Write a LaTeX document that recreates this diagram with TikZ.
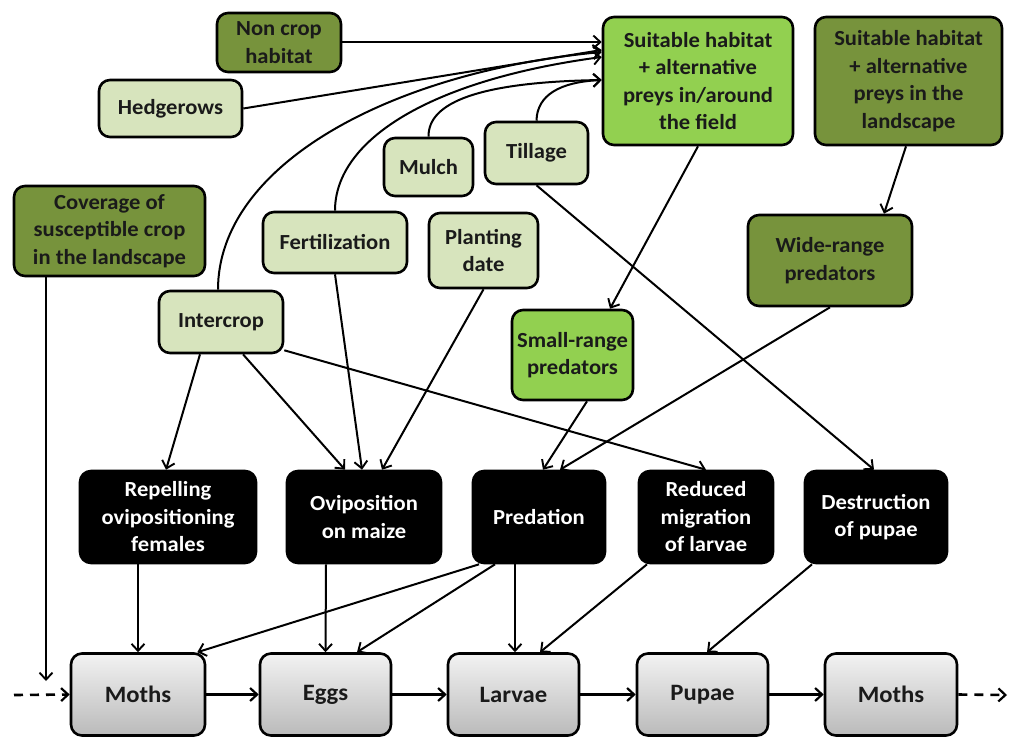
\documentclass[tikz,border=0pt]{standalone}
\usepackage{fontspec}
\setmainfont{Carlito}[FakeStretch=1.05]
\usetikzlibrary{arrows.meta}
\definecolor{pale}{HTML}{D7E4BD}
\definecolor{lgreen}{HTML}{92D050}
\definecolor{olive}{HTML}{77933C}
\definecolor{ink}{HTML}{1A1A1A}
\begin{document}
\begin{tikzpicture}[x=1pt,y=-1pt,
  box/.style={draw=black, line width=2.6pt, rounded corners=11pt, align=center,
    font=\fontsize{21.5}{27.5}\selectfont\bfseries, text=ink, inner sep=0pt},
  palebox/.style={box, fill=pale},
  greenbox/.style={box, fill=lgreen},
  olivebox/.style={box, fill=olive},
  blackbox/.style={box, fill=black, text=white, minimum height=92pt},
  stagebox/.style={box, top color=black!5, bottom color=black!27, minimum height=82pt, minimum width=131pt,
    font=\fontsize{23.5}{28}\selectfont\bfseries},
  conn/.style={line width=2pt, -{Straight Barb[length=7pt,width=13pt,line width=1.9pt]}},
  thickconn/.style={line width=3pt, -{Straight Barb[length=7pt,width=13pt,line width=2.2pt]}},
  dashconn/.style={line width=2.6pt, dash pattern=on 9pt off 7pt, -{Straight Barb[length=7pt,width=13pt,line width=2.2pt]}}
]
\useasboundingbox (0,0) rectangle (1009,737);

% top row
\node[olivebox, minimum width=124pt, minimum height=59pt] (noncrop) at (279,42.5) {Non crop\\habitat};
\node[palebox, minimum width=143pt, minimum height=57pt] (hedge) at (170.5,108.5) {Hedgerows};
\node[greenbox, minimum width=190pt, minimum height=128pt] (field) at (698,81) {Suitable habitat\\+ alternative\\preys in/around\\the field};
\node[olivebox, minimum width=187pt, minimum height=128pt] (land) at (908.5,81) {Suitable habitat\\+ alternative\\preys in the\\landscape};
\node[palebox, minimum width=89pt, minimum height=58pt] (mulch) at (428.5,167) {Mulch};
\node[palebox, minimum width=103pt, minimum height=62pt] (tillage) at (536.5,153) {Tillage};
\node[olivebox, minimum width=191pt, minimum height=90pt] (cover) at (109.5,231) {Coverage of\\susceptible crop\\in the landscape};
\node[palebox, minimum width=144pt, minimum height=61pt] (fert) at (335,242.5) {Fertilization};
\node[palebox, minimum width=109pt, minimum height=75pt] (plant) at (483.5,250.5) {Planting\\date};
\node[olivebox, minimum width=164pt, minimum height=91pt] (wide) at (830,260.5) {Wide-range\\predators};
\node[palebox, minimum width=124pt, minimum height=62pt] (inter) at (221,322) {Intercrop};
\node[greenbox, minimum width=121pt, minimum height=90pt] (small) at (572.5,355) {Small-range\\predators};

% black row
\node[blackbox, minimum width=176pt] (repel) at (168,517) {Repelling\\ovipositioning\\females};
\node[blackbox, minimum width=154pt] (ovi) at (364,517) {Oviposition\\on maize};
\node[blackbox, minimum width=132pt] (pred) at (539,517) {Predation};
\node[blackbox, minimum width=134pt] (red) at (706,517) {Reduced\\migration\\of larvae};
\node[blackbox, minimum width=142pt] (dest) at (876,517) {Destruction\\of pupae};

% stages
\node[stagebox, minimum width=134pt] (m1) at (138,694.5) {Moths};
\node[stagebox] (eggs) at (325.5,694.5) {Eggs};
\node[stagebox] (larv) at (513.5,694.5) {Larvae};
\node[stagebox] (pupa) at (702.5,694.5) {Pupae};
\node[stagebox, minimum width=132pt] (m2) at (891,694.5) {Moths};

\coordinate (covend) at (46,681);
\coordinate (dl) at (14,695);
\coordinate (dr) at (1007,695);

% to field
\draw[conn] (noncrop.east |- 0,42) -- ([yshift=39pt]field.west);
\draw[conn] (hedge.east) -- ([yshift=31pt]field.west);
\draw[conn] ([xshift=-3pt]inter.north) .. controls (218,165) and (390,72) .. ([yshift=29pt]field.west);
\draw[conn] (fert.north) .. controls (335,140) and (430,80) .. ([yshift=24pt]field.west);
\draw[conn] (mulch.north) .. controls (428,102) and (480,82) .. ([yshift=1pt]field.west);
\draw[conn] (tillage.north) .. controls (537,95) and (560,82) .. ([yshift=1pt]field.west);

% predators
\draw[conn] (field.south) -- ([xshift=37.5pt]small.north);
\draw[conn] ([xshift=-2.5pt]land.south) -- ([xshift=54pt]wide.north);
\draw[conn] ([xshift=14.5pt]small.south) -- ([xshift=4pt]pred.north);
\draw[conn] (wide.south) -- ([xshift=21pt]pred.north);
\draw[conn] (tillage.south) -- ([xshift=-2pt]dest.north);

% management
\draw[conn] ([xshift=-21pt]inter.south) -- ([xshift=-2pt]repel.north);
\draw[conn] ([xshift=22pt]inter.south) -- ([xshift=-19pt]ovi.north);
\draw[conn] ([yshift=4pt]inter.south east) -- (red.north);
\draw[conn] (fert.south) -- ([xshift=-2pt]ovi.north);
\draw[conn] (plant.south) -- ([xshift=18pt]ovi.north);
\draw[conn] ([xshift=-63.5pt]cover.south) -- (covend);

% effects to stages
\draw[conn] ([xshift=-30pt]repel.south) -- (m1.north);
\draw[conn] ([xshift=-38pt]ovi.south) -- (eggs.north);
\draw[conn] ([xshift=-60pt]pred.south) -- ([xshift=-9pt]m1.north east);
\draw[conn] ([xshift=-44pt]pred.south) -- ([xshift=31.5pt]eggs.north);
\draw[conn] ([xshift=-24pt]pred.south) -- ([xshift=1.5pt]larv.north);
\draw[conn] ([xshift=-59pt]red.south) -- ([xshift=26.5pt]larv.north);
\draw[conn] ([xshift=-64pt]dest.south) -- ([xshift=4.5pt]pupa.north);

% life cycle
\draw[thickconn] (m1) -- (eggs);
\draw[thickconn] (eggs) -- (larv);
\draw[thickconn] (larv) -- (pupa);
\draw[thickconn] (pupa) -- (m2);
\draw[dashconn] (dl) -- (m1.west);
\draw[dashconn] (m2.east) -- (dr);
\end{tikzpicture}
\end{document}
